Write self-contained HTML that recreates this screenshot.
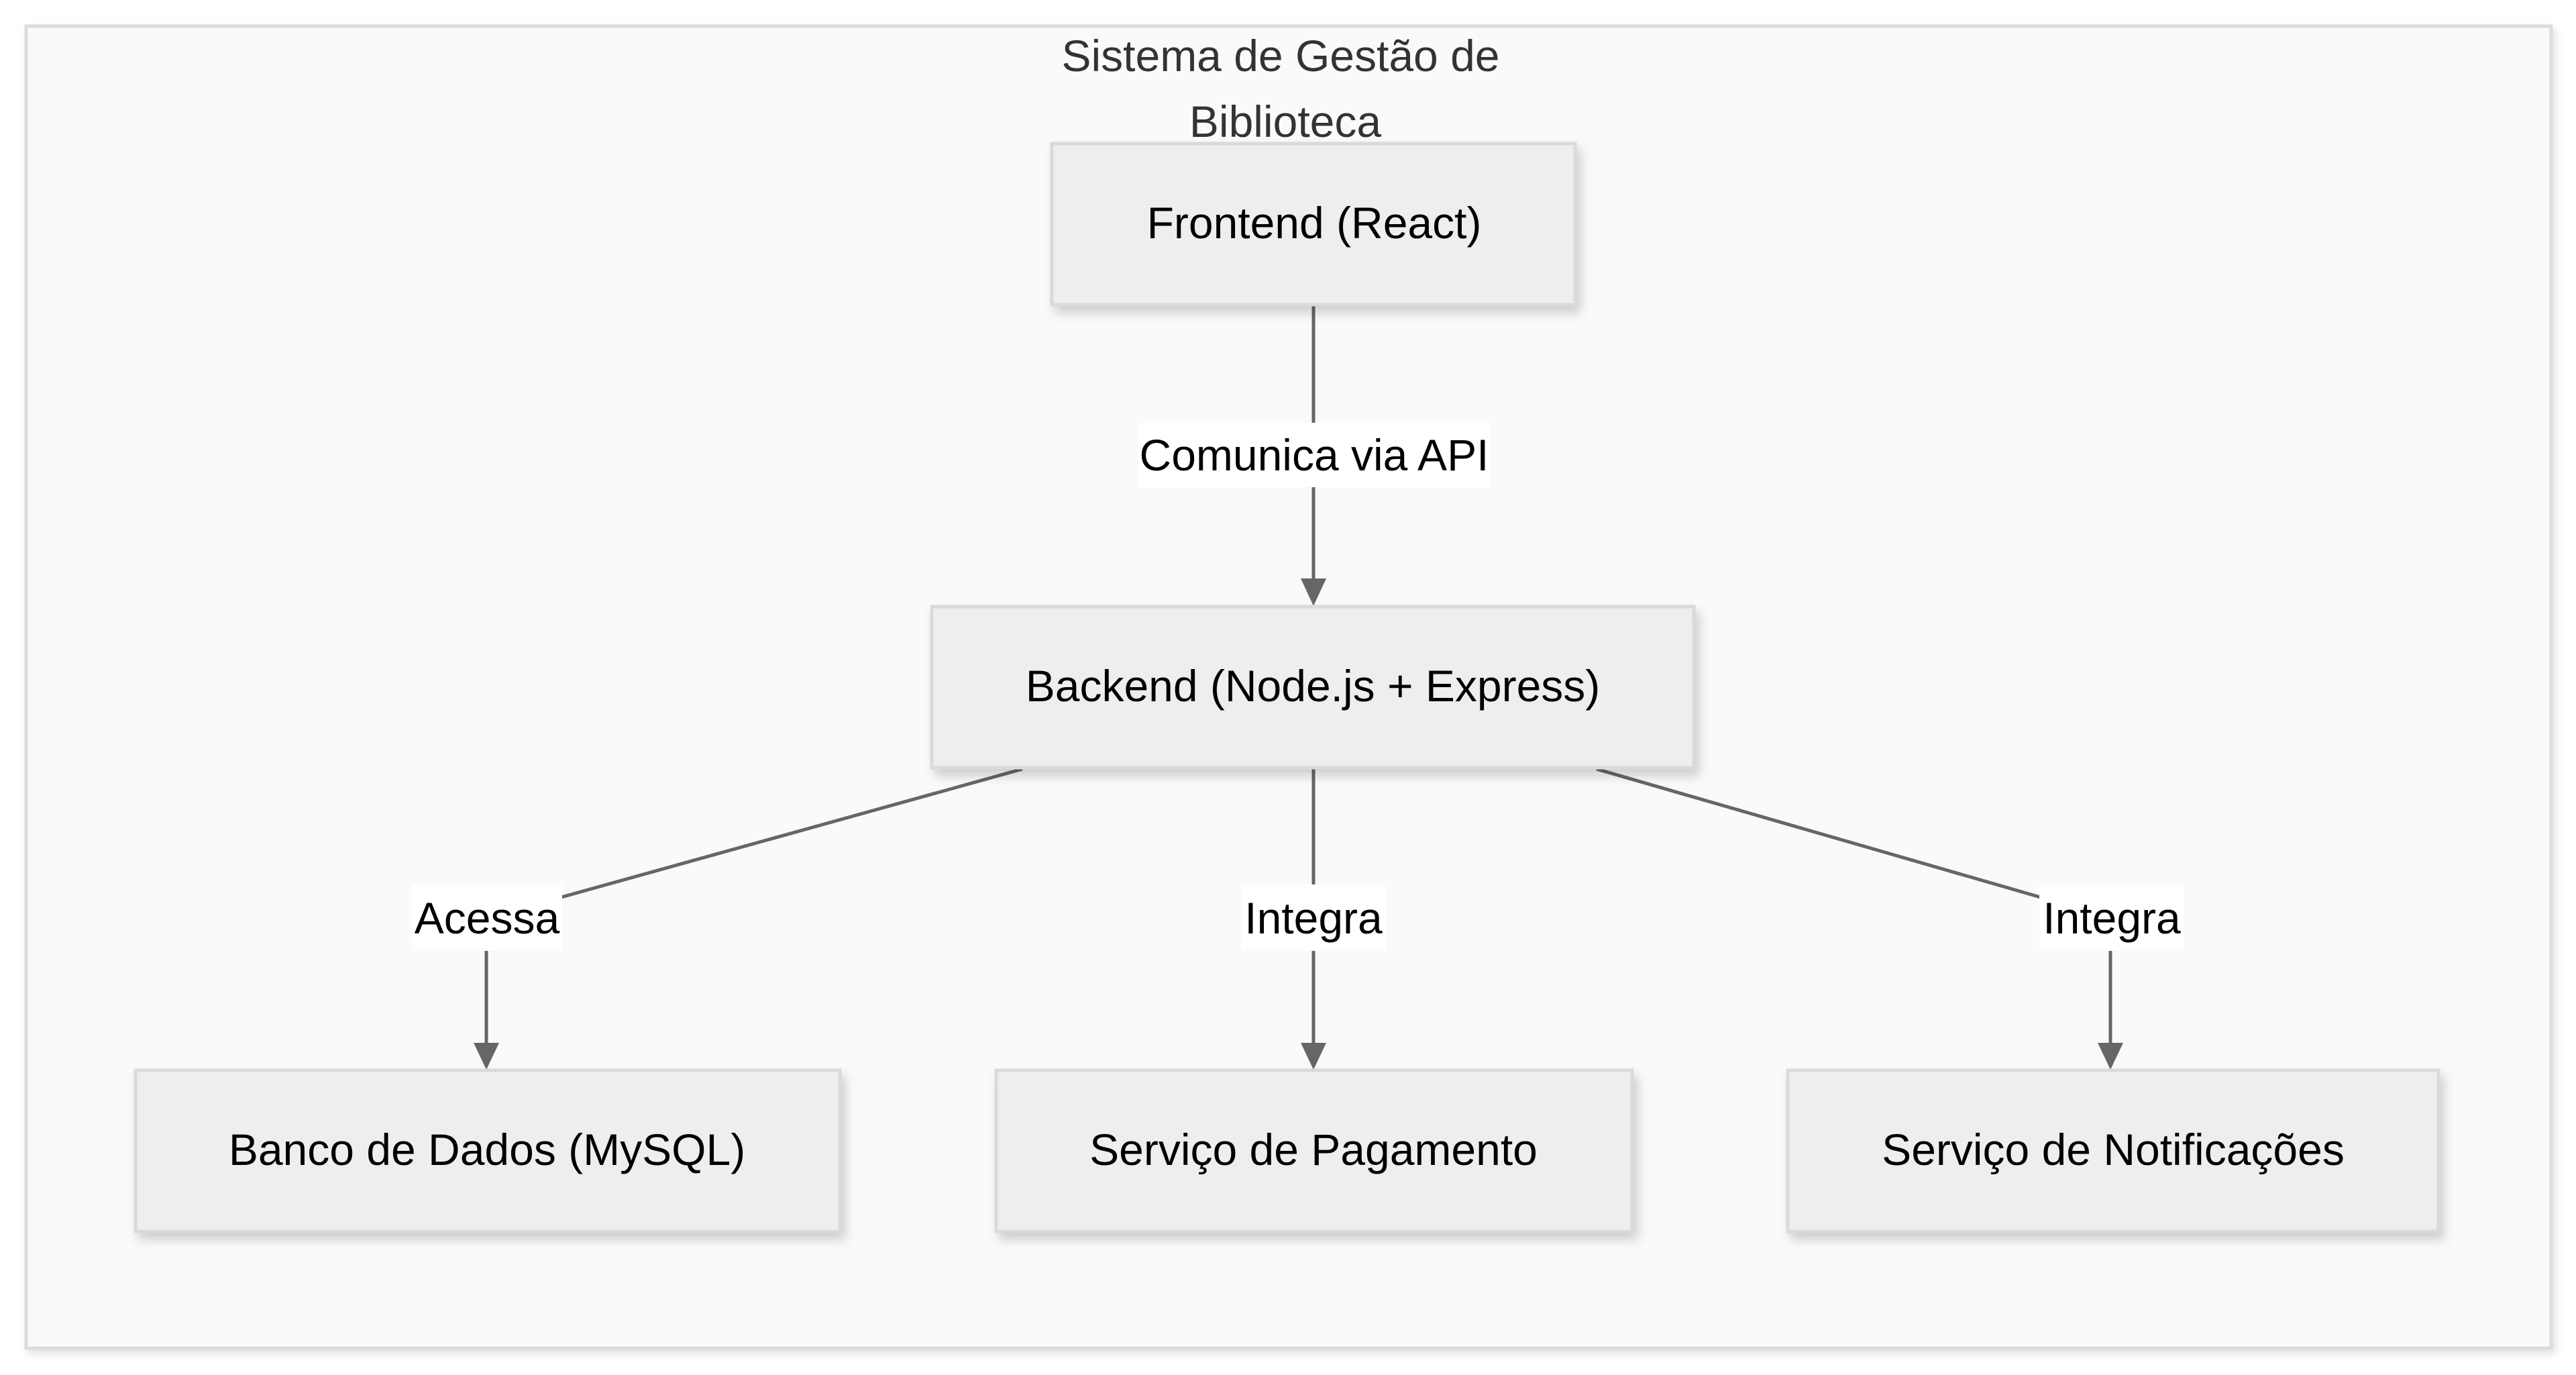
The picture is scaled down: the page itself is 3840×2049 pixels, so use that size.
<!DOCTYPE html>
<html><head><meta charset="utf-8"><style>
html,body{margin:0;padding:0;background:#fff;}
svg{display:block;}
text{font-family:"Liberation Sans",sans-serif;}
</style></head><body>
<svg width="3840" height="2049" viewBox="0 0 3840 2049" xmlns="http://www.w3.org/2000/svg">
<defs>
<filter id="sh" x="-10%" y="-10%" width="130%" height="140%">
<feDropShadow dx="6" dy="10" stdDeviation="8" flood-color="#000" flood-opacity="0.18"/>
</filter>
<filter id="sh2" x="-5%" y="-5%" width="110%" height="110%">
<feDropShadow dx="4" dy="6" stdDeviation="6" flood-color="#000" flood-opacity="0.12"/>
</filter>
</defs>
<rect x="39" y="39" width="3764" height="1970" fill="#fafafa" stroke="#dcdcdc" stroke-width="5" filter="url(#sh2)"/>
<text x="1909" y="106" font-size="66" fill="#333" text-anchor="middle">Sistema de Gestão de</text>
<text x="1916" y="204" font-size="66" fill="#333" text-anchor="middle">Biblioteca</text>

<g stroke="#666" stroke-width="5" fill="none">
<line x1="1958" y1="456" x2="1958" y2="640"/>
<line x1="1958" y1="725" x2="1958" y2="862"/>
<line x1="1524" y1="1146" x2="833" y2="1338"/>
<line x1="725" y1="1417" x2="725" y2="1556"/>
<line x1="1958" y1="1146" x2="1958" y2="1320"/>
<line x1="1958" y1="1417" x2="1958" y2="1556"/>
<line x1="2380" y1="1146" x2="3045" y2="1338"/>
<line x1="3146" y1="1417" x2="3146" y2="1556"/>
</g>
<g fill="#666">
<polygon points="1939,862 1977,862 1958,903"/>
<polygon points="706,1554 744,1554 725,1594"/>
<polygon points="1939,1554 1977,1554 1958,1594"/>
<polygon points="3127,1554 3165,1554 3146,1594"/>
</g>

<g fill="#eeeeee" stroke="#dadada" stroke-width="5" filter="url(#sh)">
<rect x="1568" y="214" width="780" height="240"/>
<rect x="1389" y="904" width="1136" height="240"/>
<rect x="202" y="1595" width="1050" height="240"/>
<rect x="1485" y="1595" width="948" height="240"/>
<rect x="2665" y="1595" width="970" height="240"/>
</g>
<g font-size="66" fill="#000" text-anchor="middle">
<text x="1959" y="355">Frontend (React)</text>
<text x="1957" y="1045">Backend (Node.js + Express)</text>
<text x="726" y="1736">Banco de Dados (MySQL)</text>
<text x="1958" y="1736">Serviço de Pagamento</text>
<text x="3150" y="1736">Serviço de Notificações</text>
</g>

<g fill="#fff">
<rect x="1697" y="630" width="524" height="96"/>
<rect x="614" y="1318" width="224" height="99"/>
<rect x="1850" y="1318" width="216" height="99"/>
<rect x="3040" y="1318" width="216" height="99"/>
</g>
<g font-size="66" fill="#000" text-anchor="middle">
<text x="1959" y="701">Comunica via API</text>
<text x="726" y="1391">Acessa</text>
<text x="1958" y="1391">Integra</text>
<text x="3148" y="1391">Integra</text>
</g>
</svg>
</body></html>
